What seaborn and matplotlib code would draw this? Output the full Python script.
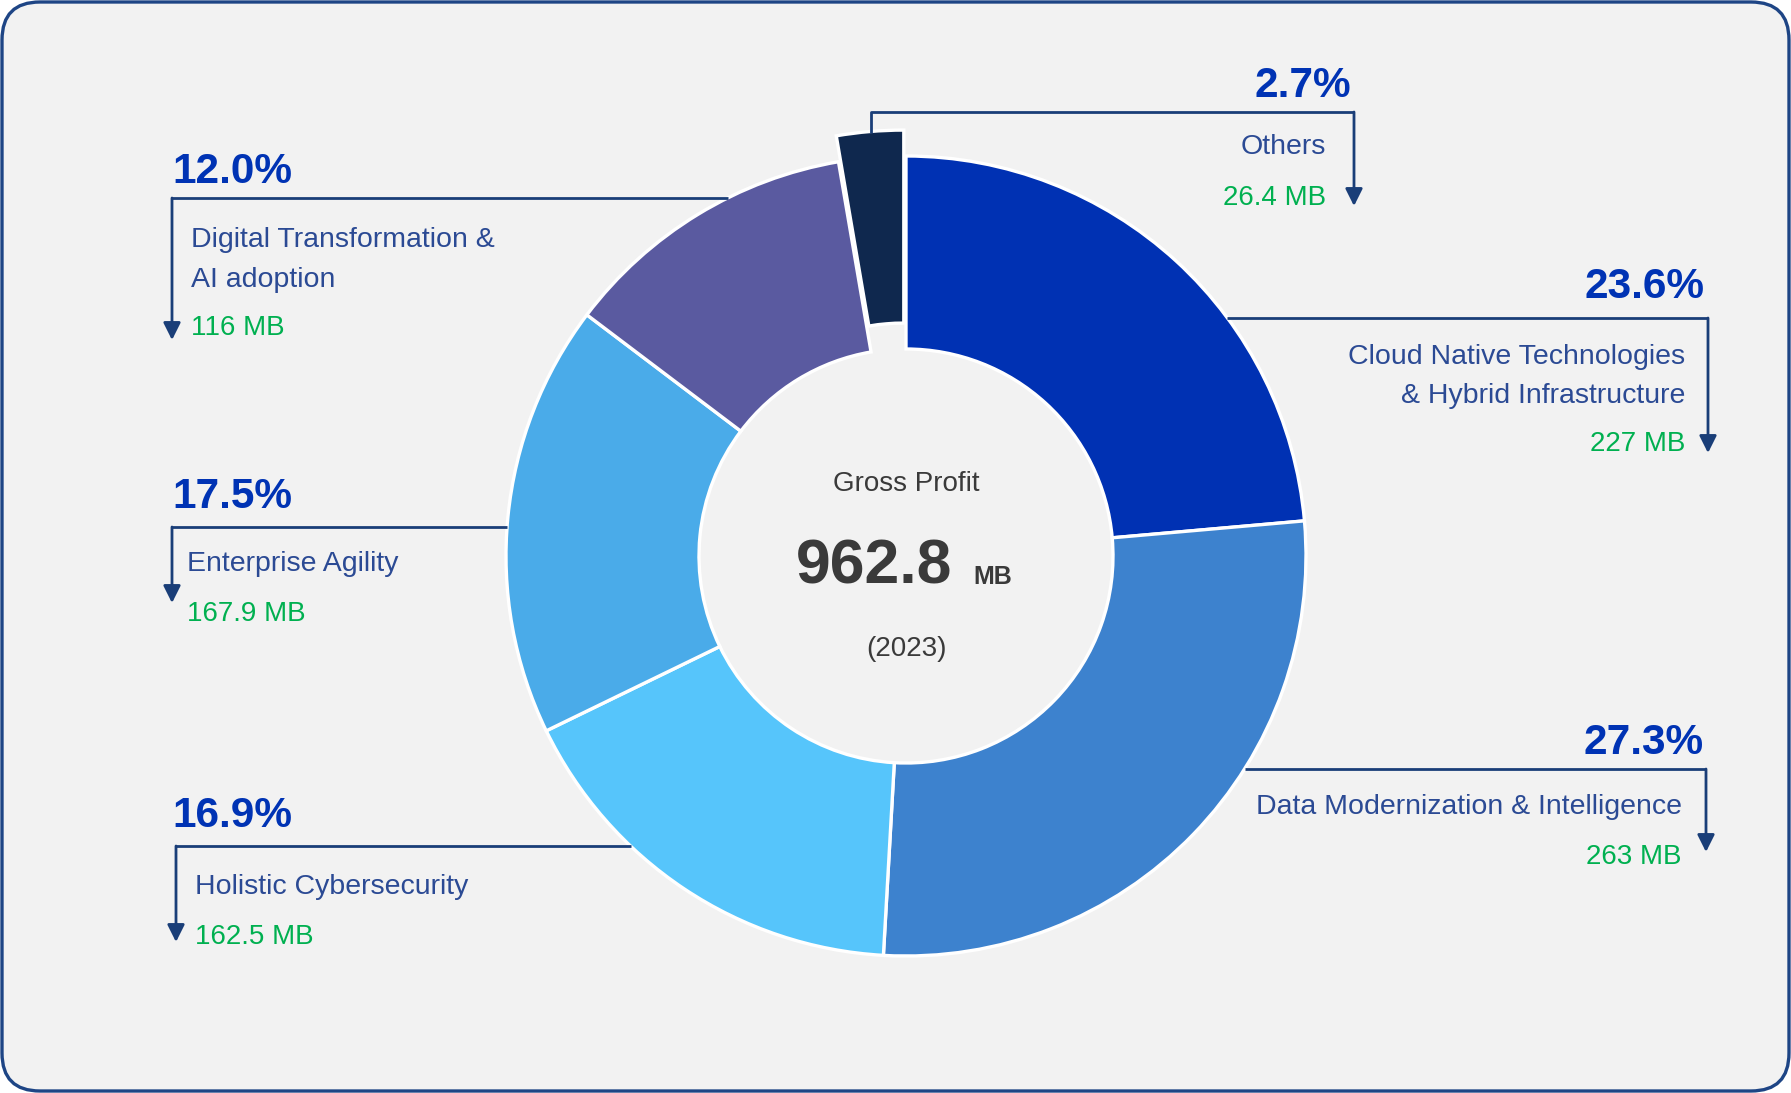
import matplotlib.pyplot as plt
import seaborn as sns
import numpy as np
from matplotlib.patches import FancyBboxPatch

# data
segments = ['Cloud Native Technologies\n& Hybrid Infrastructure',
            'Data Modernization & Intelligence',
            'Holistic Cybersecurity',
            'Enterprise Agility',
            'Digital Transformation &\nAI adoption',
            'Others']
shares = [23.6, 27.3, 16.9, 17.5, 12.0, 2.7]
values_mb = ['227 MB', '263 MB', '162.5 MB', '167.9 MB', '116 MB', '26.4 MB']
total_label = '962.8'
year_label = '(2023)'

colors = ['#0031B3', '#3D82CE', '#56C5FB', '#4AABE9', '#5A5AA0', '#0F284E']

sns.set_theme(style='white')
plt.rcParams['font.family'] = ['Liberation Sans', 'DejaVu Sans']

W, H = 1791, 1093
fig = plt.figure(figsize=(W / 100, H / 100), dpi=100)
fig.patch.set_facecolor('white')
ax = fig.add_axes([0, 0, 1, 1])
ax.set_facecolor('none')

TXT_DY = 4  # small nudge so text sits like in the source

def Y(y):
    return H - y

def T(y):
    return H - y - TXT_DY

# rounded card
card = FancyBboxPatch((2, 2), W - 4, H - 4, boxstyle='round,pad=0,rounding_size=38',
                      facecolor='#F2F2F2', edgecolor='#1E4585', linewidth=2.4, zorder=0)
ax.add_patch(card)

cx, cy, R, r_in = 906, Y(556), 400, 207
explode = [0, 0, 0, 0, 0, 26]
ax.pie(shares, colors=colors, startangle=90, counterclock=False, center=(cx, cy),
       radius=R, explode=explode,
       wedgeprops=dict(width=R - r_in, edgecolor='white', linewidth=2.4))
ax.set_xlim(0, W)
ax.set_ylim(0, H)
ax.set_aspect('auto')
ax.axis('off')

line_c = '#1A3E78'
pct_c = '#0033B4'
lab_c = '#2B4A94'
val_c = '#00B050'
LAB_FS = 20.5
VAL_FS = 20
PCT_FS = 30.5

def edge_x(y_img, side):
    dy = Y(y_img) - cy
    return cx + side * np.sqrt(R ** 2 - dy ** 2)

def connector(pts, tip):
    xs = [p[0] for p in pts]
    ys = [Y(p[1]) for p in pts]
    ax.plot(xs, ys, color=line_c, lw=2.0, solid_capstyle='butt', zorder=3)
    ax.annotate('', xy=(tip[0], Y(tip[1])), xytext=(xs[-1], ys[-1]),
                arrowprops=dict(arrowstyle='-|>', color=line_c, lw=2.0,
                                mutation_scale=26, shrinkA=0, shrinkB=0), zorder=3)

# layout of callouts (pixel positions of text / elbows)
layouts = [
    dict(side=1, line_y=318, vx=1708, tip=453, pct=(1705, 283), lab_x=1685,
         lab_y=[353, 392], val_y=440),
    dict(side=1, line_y=769, vx=1706, tip=852, pct=(1704, 739), lab_x=1682,
         lab_y=[803], val_y=853),
    dict(side=-1, line_y=846, vx=176, tip=942, pct=(172, 812), lab_x=195,
         lab_y=[883], val_y=933),
    dict(side=-1, line_y=527, vx=172, tip=603, pct=(172, 493), lab_x=187,
         lab_y=[560], val_y=610),
    dict(side=-1, line_y=198, vx=172, tip=340, pct=(172, 168), lab_x=191,
         lab_y=[236, 276], val_y=324),
]

for i, lay in enumerate(layouts):
    x0 = edge_x(lay['line_y'], lay['side'])
    connector([(x0, lay['line_y']), (lay['vx'], lay['line_y'])], (lay['vx'], lay['tip']))
    ha = 'right' if lay['side'] == 1 else 'left'
    ax.text(lay['pct'][0], T(lay['pct'][1]), f'{shares[i]:.1f}%', ha=ha, va='center',
            fontsize=PCT_FS, fontweight='bold', color=pct_c)
    for line, ly in zip(segments[i].split('\n'), lay['lab_y']):
        ax.text(lay['lab_x'], T(ly), line, ha=ha, va='center', fontsize=LAB_FS, color=lab_c)
    ax.text(lay['lab_x'], T(lay['val_y']), values_mb[i], ha=ha, va='center',
            fontsize=VAL_FS, color=val_c)

# Others (exploded slice) callout
connector([(871, 133), (871, 112), (1354, 112)], (1354, 206))
ax.text(1351, T(82), f'{shares[5]:.1f}%', ha='right', va='center',
        fontsize=PCT_FS, fontweight='bold', color=pct_c)
ax.text(1326, T(143), segments[5], ha='right', va='center', fontsize=LAB_FS, color=lab_c)
ax.text(1326, T(194), values_mb[5], ha='right', va='center', fontsize=VAL_FS, color=val_c)

# centre text
ax.text(cx, T(480), 'Gross Profit', ha='center', va='center', fontsize=20, color='#3A3A3A')
ax.text(952, Y(584), total_label, ha='right', va='baseline', fontsize=45,
        fontweight='bold', color='#3A3A3A')
ax.text(973, Y(584), 'MB', ha='left', va='baseline', fontsize=18,
        fontweight='bold', color='#3A3A3A')
ax.text(cx, T(645), year_label, ha='center', va='center', fontsize=20, color='#3A3A3A')

fig.savefig('out.png', dpi=100, facecolor=fig.get_facecolor())
